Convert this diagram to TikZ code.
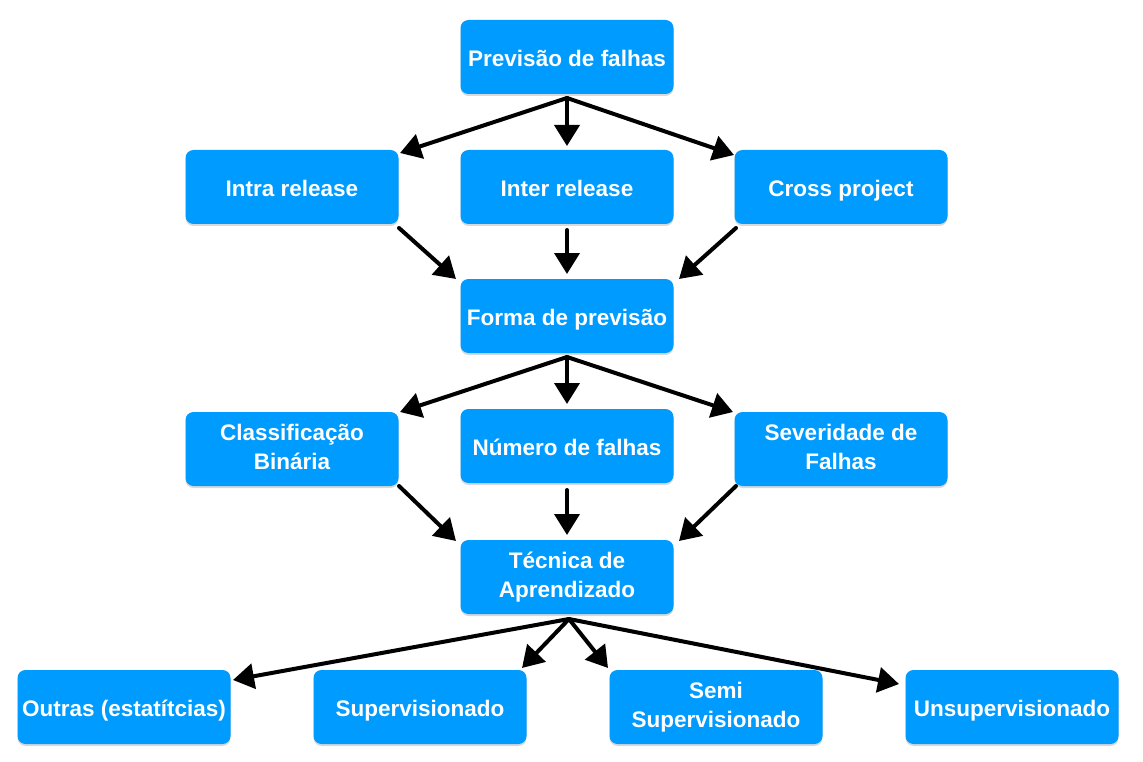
\documentclass[tikz,border=0pt]{standalone}
\usepackage{fontspec}
\setmainfont{Liberation Sans}
\usetikzlibrary{arrows.meta,shadows}
\definecolor{boxblue}{RGB}{0,155,255}
\begin{document}
\begin{tikzpicture}[x=1pt,y=-1pt,
  box/.style={fill=boxblue, rounded corners=8pt, minimum width=213pt, minimum height=74pt,
    inner sep=2pt, text=white, font=\bfseries\fontsize{22.5}{29}\selectfont, align=center,
    execute at begin node={\rule{0pt}{23pt}\vphantom{y}}, execute at end node={\vphantom{y}},
    drop shadow={shadow xshift=0pt, shadow yshift=-2pt, opacity=0.25, fill=black!60}},
  twoline/.style={box, execute at begin node={\rule{0pt}{28pt}\vphantom{y}}},
  arr/.style={line width=4pt, -{Triangle[length=21pt,width=25pt]}, black, line cap=round}]
\useasboundingbox (0,0) rectangle (1143,762);
\node[box] (prev) at (567,57) {Previsão de falhas};
\node[box] (intra) at (292,187) {Intra release};
\node[box] (inter) at (567,187) {Inter release};
\node[box] (cross) at (841,187) {Cross project};
\node[box] (forma) at (567,316) {Forma de previsão};
\node[twoline] (class) at (292,449) {Classificação\\Binária};
\node[box] (num) at (567,446) {Número de falhas};
\node[twoline] (sev) at (841,449) {Severidade de\\Falhas};
\node[twoline] (tec) at (567,577) {Técnica de\\Aprendizado};
\node[box] (outras) at (124,707) {Outras (estatítcias)};
\node[box] (sup) at (420,707) {Supervisionado};
\node[twoline] (semi) at (716,707) {Semi\\Supervisionado};
\node[box] (unsup) at (1012,707) {Unsupervisionado};
% level 1
\coordinate (p0) at (567,98);
\coordinate (a1) at (400,153);
\coordinate (a2) at (567,146);
\coordinate (a3) at (734,155);
\draw[arr] (p0) -- (a1);
\draw[arr] (p0) -- (a2);
\draw[arr] (p0) -- (a3);
% level 2
\coordinate (b1s) at (399,228); \coordinate (b1e) at (456,279);
\coordinate (b2s) at (567,230); \coordinate (b2e) at (567,274);
\coordinate (b3s) at (736,228); \coordinate (b3e) at (679,279);
\draw[arr] (b1s) -- (b1e);
\draw[arr] (b2s) -- (b2e);
\draw[arr] (b3s) -- (b3e);
% level 3
\coordinate (f0) at (567,357);
\coordinate (c1) at (400,412);
\coordinate (c2) at (567,404);
\coordinate (c3) at (733,412);
\draw[arr] (f0) -- (c1);
\draw[arr] (f0) -- (c2);
\draw[arr] (f0) -- (c3);
% level 4
\coordinate (d1s) at (399,486); \coordinate (d1e) at (456,541);
\coordinate (d2s) at (567,490); \coordinate (d2e) at (567,535);
\coordinate (d3s) at (736,486); \coordinate (d3e) at (679,541);
\draw[arr] (d1s) -- (d1e);
\draw[arr] (d2s) -- (d2e);
\draw[arr] (d3s) -- (d3e);
% level 5
\coordinate (t0) at (569,619);
\coordinate (e1) at (233,680);
\coordinate (e2) at (522,668);
\coordinate (e3) at (608,668);
\coordinate (e4) at (899,684);
\draw[arr] (t0) -- (e1);
\draw[arr] (t0) -- (e2);
\draw[arr] (t0) -- (e3);
\draw[arr] (t0) -- (e4);
\end{tikzpicture}
\end{document}
